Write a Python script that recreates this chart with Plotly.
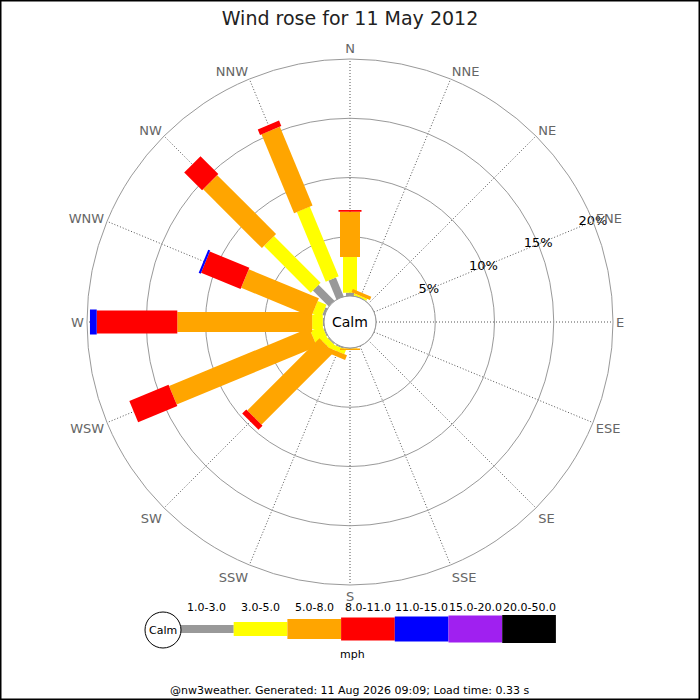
import plotly.graph_objects as go
import numpy as np

# data (percent of time, per direction and speed band)
directions = ['N', 'NNE', 'NE', 'ENE', 'E', 'ESE', 'SE', 'SSE',
              'S', 'SSW', 'SW', 'WSW', 'W', 'WNW', 'NW', 'NNW']
bands = ['1.0-3.0', '3.0-5.0', '5.0-8.0', '8.0-11.0', '11.0-15.0', '15.0-20.0', '20.0-50.0']
band_colors = ['#999999', '#ffff00', '#ffa500', '#ff0000', '#0000ff', '#a020f0', '#000000']
band_widths = [8, 14, 20, 23, 25, 27, 28]

pct_1_3 =   [0.28, 0.00, 0, 0, 0, 0, 0, 0, 0.00, 0.10, 0.10, 0.10, 0.10, 0.20, 1.90, 1.73]
pct_3_5 =   [3.02, 0.17, 0, 0, 0, 0, 0, 0, 0.05, 0.40, 0.50, 1.08, 0.90, 0.80, 5.57, 6.37]
pct_5_8 =   [3.81, 0.29, 0, 0, 0, 0, 0, 0, 0.12, 0.43, 8.62, 12.80, 11.38, 6.40, 7.02, 7.20]
pct_8_11 =  [0.15, 0.00, 0, 0, 0, 0, 0, 0, 0.00, 0.00, 0.48, 3.58, 6.80, 3.61, 2.13, 0.50]
pct_11_15 = [0.00, 0.00, 0, 0, 0, 0, 0, 0, 0.00, 0.00, 0.00, 0.00, 0.57, 0.18, 0.00, 0.00]
pct_15_20 = [0] * 16
pct_20_50 = [0] * 16

radial_ticks = [5, 10, 15, 20]

title_text = 'Wind rose for 11 May 2012'
footer_text = '@nw3weather. Generated: 11 Aug 2026 09:09; Load time: 0.33 s'

W = H = 700
def px(x):
    return x / W
def py(y):
    return 1 - y / H

angles = np.arange(16) * 22.5
series = np.array([pct_1_3, pct_3_5, pct_5_8, pct_8_11, pct_11_15, pct_15_20, pct_20_50], dtype=float)
tops = np.cumsum(series, axis=0)
bottoms = tops - series

fig = go.Figure()

# stacked bars as thick radial lines (constant pixel width like the original)
for i in range(len(bands)):
    r, th = [], []
    for j in range(16):
        if series[i, j] <= 0:
            continue
        r += [bottoms[i, j], tops[i, j], None]
        th += [angles[j], angles[j], None]
    if not r:
        continue
    fig.add_trace(go.Scatterpolar(
        r=r, theta=th, mode='lines',
        line=dict(color=band_colors[i], width=band_widths[i]),
        connectgaps=False, cliponaxis=False, hoverinfo='skip', showlegend=False,
    ))

# radial labels along ENE
fig.add_trace(go.Scatterpolar(
    r=radial_ticks, theta=[67.5] * len(radial_ticks), mode='text',
    text=[f'{v}%' for v in radial_ticks],
    textfont=dict(size=13, color='black'),
    hoverinfo='skip', showlegend=False, cliponaxis=False,
))

cx, cy, R = 350, 322, 263
hole_px = 26

fig.update_layout(
    width=W, height=H,
    margin=dict(l=0, r=0, t=0, b=0),
    paper_bgcolor='white',
    font=dict(family='DejaVu Sans', color='black'),
    polar=dict(
        domain=dict(x=[px(cx - R), px(cx + R)], y=[py(cy + R), py(cy - R)]),
        hole=hole_px / R,
        bgcolor='white',
        radialaxis=dict(range=[0, 20], tickvals=radial_ticks, showticklabels=False,
                        ticks='', showline=False, gridcolor='#999999', gridwidth=1),
        angularaxis=dict(rotation=90, direction='clockwise',
                         tickmode='array', tickvals=list(angles), ticktext=directions,
                         ticks='', showline=True, linecolor='#999999', linewidth=1,
                         gridcolor='#555555', gridwidth=0.8, griddash='1px,2px',
                         tickfont=dict(size=13, color='#666666')),
    ),
    title=dict(text=title_text, x=0.5, xanchor='center', y=py(18), yanchor='middle',
               font=dict(size=19, color='#222222')),
)

shapes = []
annotations = []

def label(x, y, text, size=11):
    annotations.append(dict(x=px(x), y=py(y), xref='paper', yref='paper', text=text,
                            xanchor='center', yanchor='middle', showarrow=False,
                            font=dict(size=size, color='black')))

# calm circle in the middle
shapes.append(dict(type='circle', xref='paper', yref='paper', layer='above',
                   x0=px(cx - hole_px), x1=px(cx + hole_px),
                   y0=py(cy + hole_px), y1=py(cy - hole_px),
                   fillcolor='white', line=dict(color='#999999', width=1)))
label(cx, cy, 'Calm', 14)

# legend strip
lx0, lstep, lyc = 180, 53.7, 629
for i, (lab, col) in enumerate(zip(bands, band_colors)):
    x0 = lx0 + i * lstep
    hw = band_widths[i] / 2
    shapes.append(dict(type='rect', xref='paper', yref='paper', layer='above',
                       x0=px(x0), x1=px(x0 + lstep), y0=py(lyc + hw), y1=py(lyc - hw),
                       fillcolor=col, line=dict(width=0)))
    label(x0 + lstep / 2, 607, lab)
shapes.append(dict(type='circle', xref='paper', yref='paper', layer='above',
                   x0=px(163 - 18), x1=px(163 + 18), y0=py(630 + 18), y1=py(630 - 18),
                   fillcolor='white', line=dict(color='black', width=1)))
label(163, 630, 'Calm')
label(352, 654, 'mph')
label(349, 690, footer_text)

# border
shapes.append(dict(type='rect', xref='paper', yref='paper', x0=0, x1=1, y0=0, y1=1,
                   line=dict(color='black', width=3), layer='above'))

fig.update_layout(shapes=shapes, annotations=annotations)

fig.write_html('out.html', config={'displayModeBar': False},
               post_script="document.body.style.margin='0';")
